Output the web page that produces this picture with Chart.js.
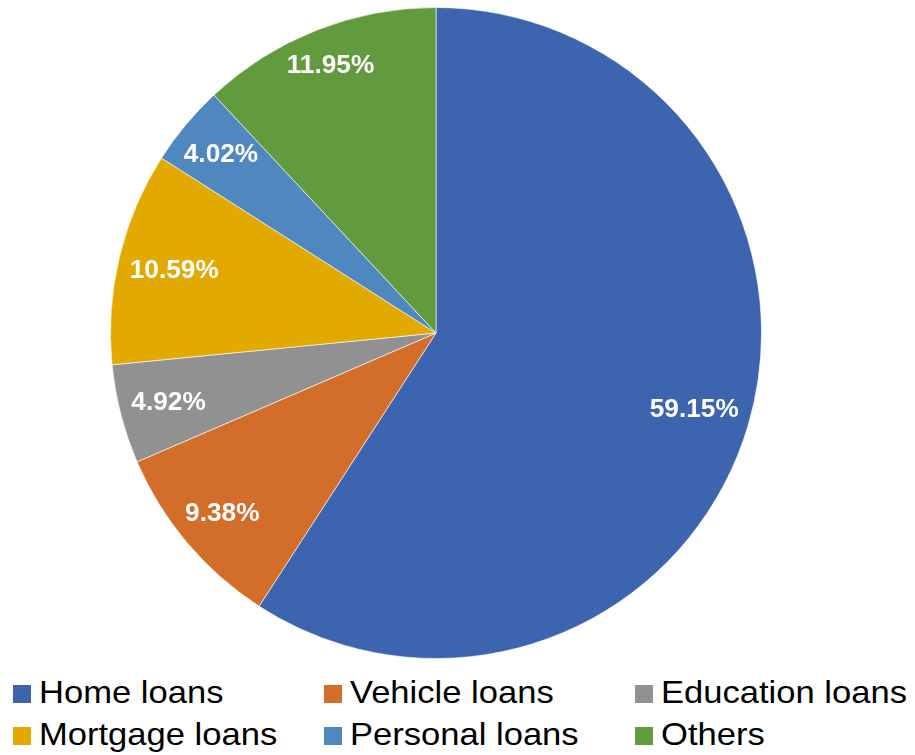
<!DOCTYPE html>
<html lang="en">
<head>
    <meta charset="UTF-8">
    <title>Loan Portfolio Breakdown</title>
    <script src="https://cdn.jsdelivr.net/npm/chart.js@4.4.0/dist/chart.umd.min.js"></script>
    <style>
        body {
            margin: 0;
            background: #fff;
            font-family: "Liberation Sans", Arial, sans-serif;
        }
        .wrap {
            position: relative;
            width: 915px;
            height: 755px;
        }
        #loanChart {
            position: absolute;
            left: 0;
            top: 0;
        }
        .legend-box {
            position: absolute;
            width: 18px;
            height: 18px;
        }
        .legend-text {
            position: absolute;
            font-size: 32px;
            line-height: 32px;
            color: #000;
            white-space: nowrap;
            transform: scaleX(1.08);
            transform-origin: left center;
        }
    </style>
</head>
<body>
<div class="wrap">
    <canvas id="loanChart" width="915" height="665"></canvas>
    <div id="legend"></div>
</div>

<script>
    // Loan categories and their share of the portfolio (%)
    const categories = ['Home loans', 'Vehicle loans', 'Education loans', 'Mortgage loans', 'Personal loans', 'Others'];
    const shares = [59.15, 9.38, 4.92, 10.59, 4.02, 11.95];
    const colors = ['#3d64ae', '#d26e2a', '#919191', '#e2aa00', '#4e88be', '#629a3e'];

    // Percent labels placed just inside the outer edge of each slice
    const insideEndLabels = {
        id: 'insideEndLabels',
        afterDatasetsDraw(chart) {
            const ctx = chart.ctx;
            const meta = chart.getDatasetMeta(0);
            const stretch = 1.05;
            ctx.save();
            ctx.font = 'bold 25px "Liberation Sans", Arial, sans-serif';
            ctx.fillStyle = '#fff';
            ctx.textAlign = 'center';
            ctx.textBaseline = 'middle';
            meta.data.forEach((arc, i) => {
                const text = shares[i].toFixed(2) + '%';
                const mid = (arc.startAngle + arc.endAngle) / 2;
                const c = Math.cos(mid), s = Math.sin(mid);
                const w = ctx.measureText(text).width * stretch / 2;
                const h = 9;
                const R = arc.outerRadius - 11;
                const b = Math.abs(c) * w + Math.abs(s) * h;
                const d = -b + Math.sqrt(b * b - (w * w + h * h - R * R));
                ctx.save();
                ctx.translate(arc.x + d * c, arc.y + d * s + 1);
                ctx.scale(stretch, 1);
                ctx.fillText(text, 0, 0);
                ctx.restore();
            });
            ctx.restore();
        }
    };

    new Chart(document.getElementById('loanChart'), {
        type: 'pie',
        data: {
            labels: categories,
            datasets: [{
                data: shares,
                backgroundColor: colors,
                borderColor: 'rgba(255,255,255,0.6)',
                borderWidth: 1
            }]
        },
        options: {
            responsive: false,
            animation: false,
            devicePixelRatio: 1,
            layout: {
                padding: { left: 0, right: 43, top: 7, bottom: 6 }
            },
            plugins: {
                legend: { display: false },
                tooltip: { enabled: false }
            }
        },
        plugins: [insideEndLabels]
    });

    // Legend in a 3-column grid under the pie
    const legend = document.getElementById('legend');
    categories.forEach((name, i) => {
        const col = i % 3, row = Math.floor(i / 3);
        const left = 13 + col * 311;
        const top = 685 + row * 42;

        const box = document.createElement('div');
        box.className = 'legend-box';
        box.style.left = left + 'px';
        box.style.top = top + 'px';
        box.style.background = colors[i];
        legend.appendChild(box);

        const label = document.createElement('div');
        label.className = 'legend-text';
        label.style.left = (left + 26) + 'px';
        label.style.top = (top - 9) + 'px';
        label.textContent = name;
        legend.appendChild(label);
    });
</script>
</body>
</html>
